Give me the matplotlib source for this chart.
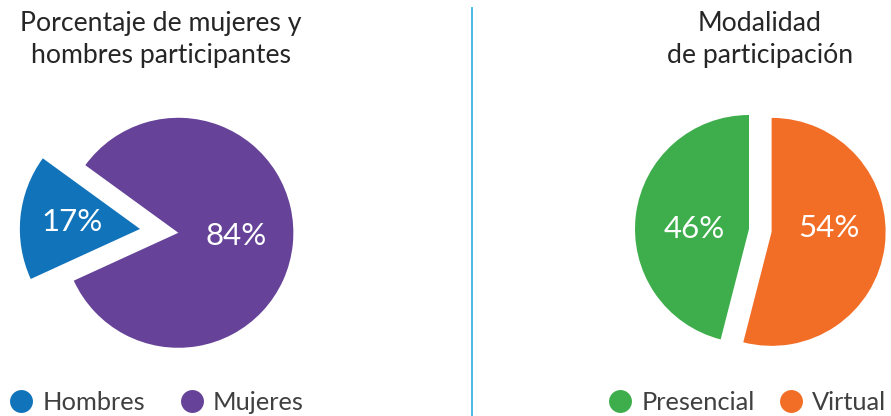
import matplotlib
matplotlib.use("Agg")
import matplotlib.pyplot as plt
from matplotlib.lines import Line2D
import numpy as np

# ---- data ----
left_title = "Porcentaje de mujeres y\nhombres participantes"
left_labels = ["Hombres", "Mujeres"]
left_values = [17, 84]
left_colors = ["#1173BA", "#664398"]

right_title = "Modalidad\nde participación"
right_labels = ["Presencial", "Virtual"]
right_values = [46, 54]
right_colors = ["#3DAE4B", "#F26E26"]

W, H = 891, 416
plt.rcParams['font.family'] = ['Lato', 'DejaVu Sans']

fig = plt.figure(figsize=(W / 100, H / 100), dpi=100)


def px_axes(cx, cy, unit, half=200):
    ax = fig.add_axes([(cx - half) / W, (H - cy - half) / H, 2 * half / W, 2 * half / H])
    return ax, half / unit


def draw_pie(ax, lim, values, colors, startangle, explode, radii, label_offsets):
    wedges, _ = ax.pie(values, colors=colors, startangle=startangle,
                       counterclock=True, explode=explode,
                       wedgeprops=dict(linewidth=0))
    for w, r in zip(wedges, radii):
        w.set_radius(r)
    for w, v, (dx, dy) in zip(wedges, values, label_offsets):
        cx, cy = w.center
        ax.text(cx + dx, cy + dy, f"{v}%", ha='center', va='baseline',
                color='white', fontsize=22.5, fontweight='normal')
    ax.set_xlim(-lim, lim)
    ax.set_ylim(-lim, lim)
    ax.set_aspect('equal')
    ax.axis('off')
    return wedges


# left pie
axL, limL = px_axes(175.5, 232.5, 115)
draw_pie(axL, limL, left_values, left_colors, startangle=144,
         explode=[0.31, 0.025], radii=[1.045, 1.0],
         label_offsets=[(-0.594, -0.017), (0.50, -0.109)])

# right pie
axR, limR = px_axes(749, 229, 114)
draw_pie(axR, limR, right_values, right_colors, startangle=90,
         explode=[0.0, 0.2], radii=[1.0, 1.0],
         label_offsets=[(-0.482, -0.082), (0.503, -0.042)])

# titles
title_kw = dict(ha='center', va='baseline', fontsize=19.2, color='#262626',
                linespacing=1.35)
fig.text(161 / W, 1 - 63 / H, left_title, **title_kw)
fig.text(760 / W, 1 - 63 / H, right_title, **title_kw)

# divider
fig.add_artist(Line2D([472 / W, 472 / W], [0, 1 - 8 / H], color='#3BB4E5',
                      linewidth=1.3, transform=fig.transFigure))


# legends
def make_legend(labels, colors, x_left, colsp):
    handles = [Line2D([0], [0], marker='o', linestyle='none', markersize=16.5,
                      markerfacecolor=c, markeredgewidth=0) for c in colors]
    fig.legend(handles, labels, loc='center left',
               bbox_to_anchor=(x_left / W, 1 - 402 / H),
               bbox_transform=fig.transFigure, ncol=2, frameon=False,
               handlelength=0.85, handletextpad=0.4, columnspacing=colsp,
               borderpad=0, borderaxespad=0,
               prop=dict(family=['Lato', 'DejaVu Sans'], size=18.3, weight='normal'),
               labelcolor='#404040')


make_legend(left_labels, left_colors, 10.5, 1.42)
make_legend(right_labels, right_colors, 609.5, 1.0)

fig.savefig("out.png", dpi=100)
